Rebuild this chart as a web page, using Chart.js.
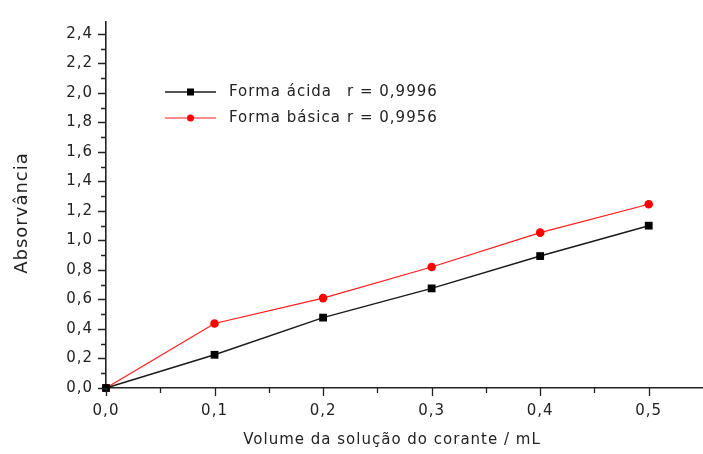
<!DOCTYPE html>
<html>
<head>
<meta charset="utf-8">
<script src="https://cdn.jsdelivr.net/npm/chart.js@4"></script>
<style>
  html, body { margin: 0; padding: 0; background: #fff; }
  #wrap { width: 703px; height: 454px; }
</style>
</head>
<body>
<div id="wrap"><canvas id="absChart" width="703" height="454"></canvas></div>
<script>
var volumes = [0, 0.1, 0.2, 0.3, 0.4, 0.5];
var acidaValues = [0, 0.225, 0.477, 0.675, 0.894, 1.10];
var basicaValues = [0, 0.437, 0.609, 0.82, 1.053, 1.245];
var seriesLabels = ["Forma ácida", "Forma básica"];
var rValues = ["r = 0,9996", "r = 0,9956"];
var yTicks = [0, 0.2, 0.4, 0.6, 0.8, 1.0, 1.2, 1.4, 1.6, 1.8, 2.0, 2.2, 2.4];
var xTicks = [0, 0.1, 0.2, 0.3, 0.4, 0.5];
var xTitle = 'Volume da solução do corante / mL';
var yTitle = 'Absorvância';

var FONT = "'DejaVu Sans', Verdana, sans-serif";
var fmt = function(v){ return v.toFixed(1).replace('.', ','); };

// the original lettering is wide, so space the letters out a bit
var spacingPlugin = {
  id: 'letterSpacing',
  beforeUpdate: function(chart){ chart.ctx.letterSpacing = '1px'; },
  beforeDraw: function(chart){ chart.ctx.letterSpacing = '1px'; }
};

// ticks drawn by hand so the minor ticks can be shorter
var tickPlugin = {
  id: 'tickMarks',
  afterDraw: function(chart){
    var ctx = chart.ctx;
    var xs = chart.scales.x, ys = chart.scales.y;
    var left = chart.chartArea.left, bottom = chart.chartArea.bottom;
    ctx.save();
    ctx.strokeStyle = '#222';
    ctx.lineWidth = 1.3;
    ctx.beginPath();
    for(var v = 0; v <= 24; v++){
      var py = Math.round(ys.getPixelForValue(v / 10)) + 0.5;
      var len = v % 2 == 0 ? 8 : 5;
      ctx.moveTo(left - len, py);
      ctx.lineTo(left, py);
    }
    for(var h = 0; h <= 10; h++){
      var px = Math.round(xs.getPixelForValue(h * 0.05)) + 0.5;
      var len2 = h % 2 == 0 ? 8 : 5;
      ctx.moveTo(px, bottom);
      ctx.lineTo(px, bottom + len2);
    }
    ctx.stroke();
    ctx.restore();
  }
};

// axis titles sit a little off-centre in the original
var titlePlugin = {
  id: 'axisTitles',
  afterDraw: function(chart){
    var ctx = chart.ctx;
    ctx.save();
    ctx.fillStyle = '#222';
    ctx.letterSpacing = '1px';
    ctx.textAlign = 'center';
    ctx.textBaseline = 'middle';
    ctx.font = '15px ' + FONT;
    ctx.fillText(xTitle, 392, 440);
    ctx.translate(22, 213);
    ctx.rotate(-Math.PI / 2);
    ctx.font = '18px ' + FONT;
    ctx.fillText(yTitle, 0, 0);
    ctx.restore();
  }
};

var legendPlugin = {
  id: 'boxLegend',
  afterDraw: function(chart){
    var ctx = chart.ctx;
    ctx.save();
    ctx.font = '15px ' + FONT;
    ctx.letterSpacing = '1px';
    ctx.textBaseline = 'middle';
    chart.data.datasets.forEach(function(ds, i){
      var y = 92 + i * 26;
      ctx.strokeStyle = ds.borderColor;
      ctx.lineWidth = ds.borderWidth;
      ctx.beginPath();
      ctx.moveTo(165, y);
      ctx.lineTo(216, y);
      ctx.stroke();
      ctx.fillStyle = ds.pointBackgroundColor;
      if(ds.pointStyle == 'rect'){
        ctx.fillRect(187, y - 3.5, 7, 7);
      }
      else{
        ctx.beginPath();
        ctx.arc(190.5, y, 3.5, 0, Math.PI * 2);
        ctx.fill();
      }
      ctx.fillStyle = '#222';
      ctx.fillText(seriesLabels[i], 229, y);
      ctx.fillText(rValues[i], 347, y);
    });
    ctx.restore();
  }
};

var ctx = document.getElementById('absChart').getContext('2d');
var absChart = new Chart(ctx, {
  type: 'line',
  data: {
    datasets: [
      {
        label: seriesLabels[0],
        data: volumes.map(function(v, i){ return {x: v, y: acidaValues[i]}; }),
        borderColor: '#1a1a1a',
        backgroundColor: '#000',
        pointBackgroundColor: '#000',
        pointBorderColor: '#000',
        pointStyle: 'rect',
        pointRadius: 5.5,
        pointBorderWidth: 0,
        borderWidth: 1.5,
        tension: 0,
        clip: false
      },
      {
        label: seriesLabels[1],
        data: volumes.map(function(v, i){ return {x: v, y: basicaValues[i]}; }),
        borderColor: '#ff1a1a',
        backgroundColor: '#ff0000',
        pointBackgroundColor: '#ff0000',
        pointBorderColor: '#ff0000',
        pointStyle: 'circle',
        pointRadius: 4.3,
        pointBorderWidth: 0,
        borderWidth: 1.2,
        tension: 0,
        clip: false
      }
    ]
  },
  options: {
    responsive: false,
    animation: false,
    layout: {autoPadding: false, padding: {top: 13, right: 0, left: 0, bottom: 0}},
    plugins: {legend: {display: false}, tooltip: {enabled: false}},
    scales: {
      x: {
        type: 'linear',
        min: 0,
        max: 0.55,
        afterBuildTicks: function(scale){
          scale.ticks = xTicks.map(function(v){ return {value: v}; });
        },
        afterFit: function(scale){ scale.height = 66; },
        grid: {display: false, drawTicks: false},
        border: {display: true, color: '#222', width: 1.6},
        ticks: {
          padding: 14,
          color: '#222',
          font: {family: FONT, size: 15},
          maxRotation: 0,
          callback: function(v){ return fmt(v); }
        }
      },
      y: {
        min: 0,
        max: 2.48,
        afterBuildTicks: function(scale){
          scale.ticks = yTicks.map(function(v){ return {value: v}; });
        },
        afterFit: function(scale){ scale.width = 106; },
        grid: {display: false, drawTicks: false},
        border: {display: true, color: '#222', width: 1.6},
        ticks: {
          padding: 13,
          color: '#222',
          font: {family: FONT, size: 15},
          callback: function(v){ return fmt(v); }
        }
      }
    }
  },
  plugins: [spacingPlugin, tickPlugin, titlePlugin, legendPlugin]
});
</script>
</body>
</html>
